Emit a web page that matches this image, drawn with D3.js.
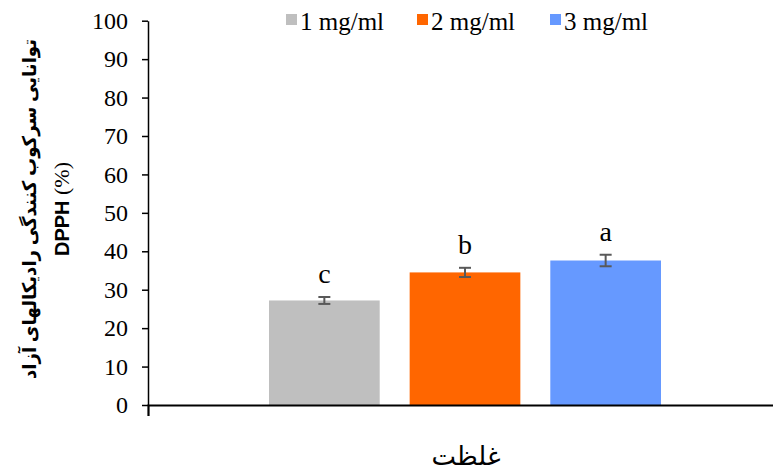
<!DOCTYPE html>
<html><head><meta charset="utf-8">
<script src="https://cdn.jsdelivr.net/npm/d3@7"></script>
<style>body{margin:0;background:#fff}svg{display:block}
.serif{font-family:"Liberation Serif","Times New Roman","DejaVu Serif",serif}
.sansb{font-family:"Liberation Sans",Arial,sans-serif;font-weight:bold}
.fa{font-family:"Noto Sans","DejaVu Sans",sans-serif}
</style>
</head><body>
<svg id="c" width="773" height="473"></svg>
<script>
const categories = ["غلظت"];
const series = ["1 mg/ml", "2 mg/ml", "3 mg/ml"];
const values = [27.2, 34.5, 37.6];
const errors = [0.9, 1.2, 1.5];
const letters = ["c", "b", "a"];
const colors = ["#BFBFBF", "#FF6600", "#6699FF"];
const yTicks = [0,10,20,30,40,50,60,70,80,90,100];
const yTitleFa = "توانایی سرکوب کنندگی رادیکالهای آزاد";
const xTitle = "غلظت";

const svg = d3.select("#c");
const L = 148, R = 782, T = 20.7, B = 405;
const y = d3.scaleLinear().domain([0,100]).range([B, T]);
const x0 = d3.scaleBand().domain(categories).range([L, R]).paddingInner(0).paddingOuter(0.3087);
const x1 = d3.scaleBand().domain(series).range([0, x0.bandwidth()]).paddingInner(0.213).paddingOuter(0);

// bars
const g = svg.append("g");
series.forEach((s, i) => {
  const cx = x0(categories[0]) + x1(s);
  g.append("rect").attr("x", cx).attr("y", y(values[i]))
    .attr("width", x1.bandwidth()).attr("height", B - y(values[i]))
    .attr("fill", colors[i]);
  const mid = cx + x1.bandwidth()/2;
  const eg = g.append("g").attr("stroke", "#595959").attr("stroke-width", 2);
  eg.append("line").attr("x1", mid).attr("x2", mid).attr("y1", y(values[i]+errors[i])).attr("y2", y(values[i]-errors[i]));
  eg.append("line").attr("x1", mid-6).attr("x2", mid+6).attr("y1", y(values[i]+errors[i])).attr("y2", y(values[i]+errors[i]));
  eg.append("line").attr("x1", mid-6).attr("x2", mid+6).attr("y1", y(values[i]-errors[i])).attr("y2", y(values[i]-errors[i]));
  g.append("text").attr("class", "serif").attr("x", mid).attr("y", y(values[i]+errors[i]) - 14)
    .attr("text-anchor", "middle").style("font-size", "28px")
    .attr("fill", "#000").text(letters[i]);
});

// y axis
const ya = svg.append("g").attr("transform", `translate(${L},0)`)
  .call(d3.axisLeft(y).tickValues(yTicks).tickSize(6).tickSizeOuter(0).tickPadding(14));
ya.attr("font-family", null).attr("font-size", null);
ya.selectAll("path,line").attr("stroke", "#000").attr("stroke-width", 1.5);
ya.selectAll("text").attr("class", "serif").style("font-size", "24px").attr("fill", "#000");

// x axis
const xa = svg.append("g").attr("transform", `translate(0,${B})`)
  .call(d3.axisBottom(x0).tickValues([]).tickSizeOuter(11));
xa.selectAll("path").attr("stroke", "#000").attr("stroke-width", 2.2);

// legend
const legX = [286, 417, 550];
series.forEach((s, i) => {
  svg.append("rect").attr("x", legX[i]).attr("y", 14).attr("width", 11).attr("height", 11).attr("fill", colors[i]);
  svg.append("text").attr("class", "serif").attr("x", legX[i] + 14).attr("y", 30)
    .style("font-size", "25px").attr("fill", "#000").text(s);
});

// y title
const yt = svg.append("g").attr("transform", "translate(0,209) rotate(-90)");
yt.append("text").attr("class", "fa").attr("x", 0).attr("y", 36).attr("text-anchor", "middle")
  .attr("direction", "rtl").attr("font-weight", "bold")
  .style("font-size", "19px").attr("textLength", 340).attr("lengthAdjust", "spacingAndGlyphs")
  .attr("fill", "#000").text(yTitleFa);
const t2 = yt.append("text").attr("x", 0).attr("y", 69).attr("text-anchor", "middle").attr("fill", "#000");
t2.append("tspan").attr("class", "sansb").style("font-size", "20px").text("DPPH");
t2.append("tspan").attr("class", "serif").style("font-size", "22px").text(" (%)");

// x title
svg.append("text").attr("class", "fa").attr("x", 466).attr("y", 465).attr("text-anchor", "middle")
  .attr("direction", "rtl").style("font-size", "26px")
  .attr("fill", "#000").text(xTitle);
</script>
</body></html>
